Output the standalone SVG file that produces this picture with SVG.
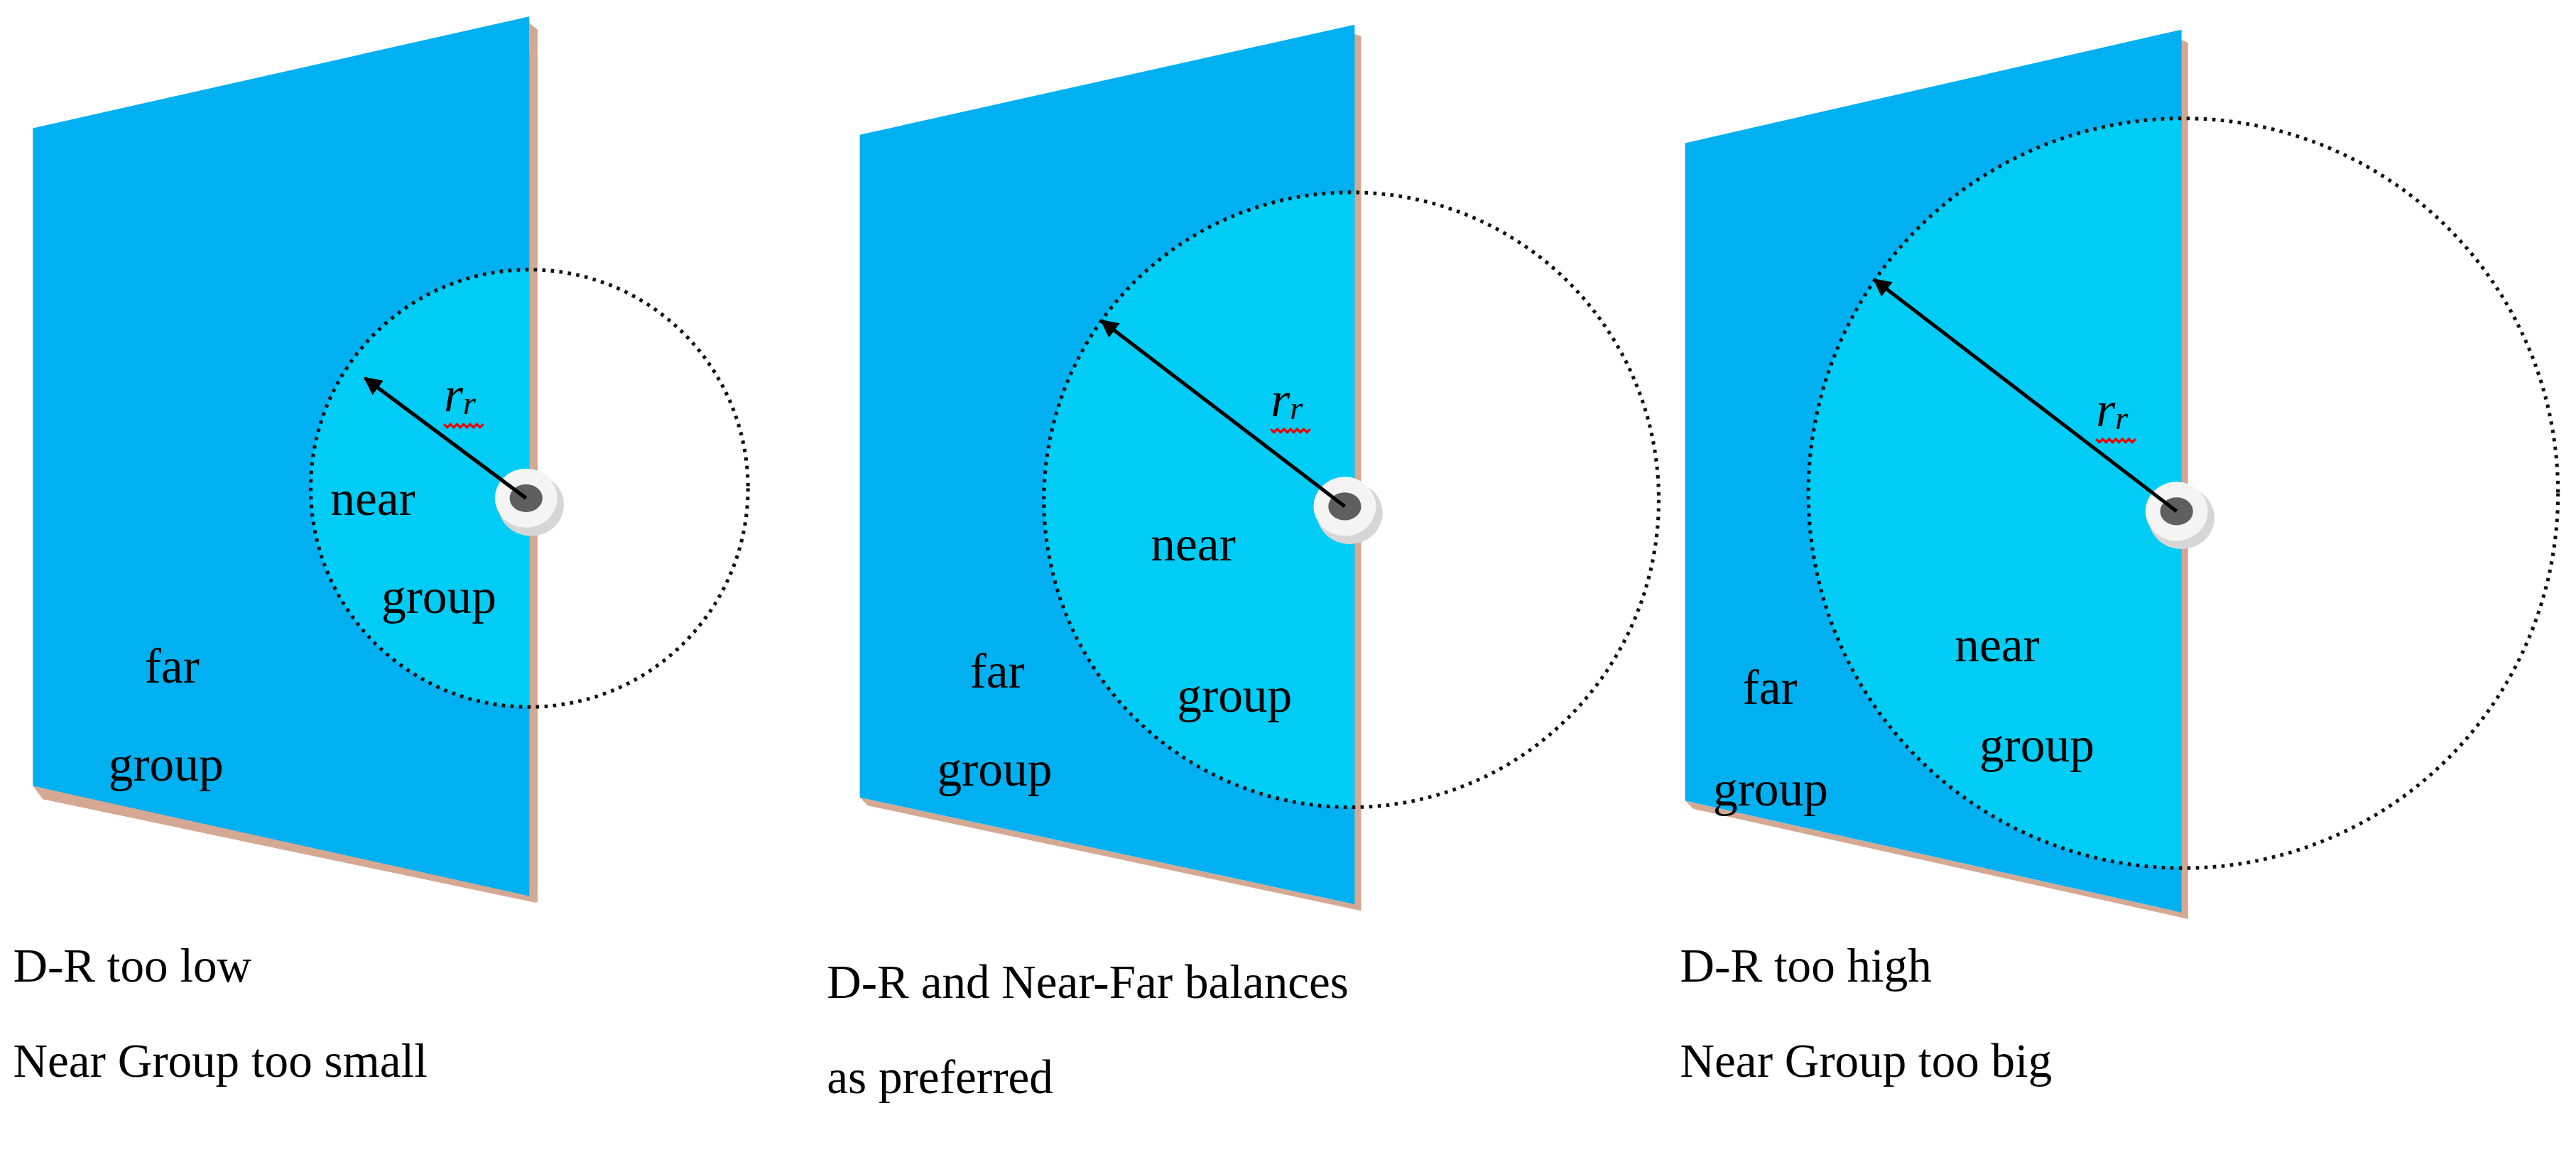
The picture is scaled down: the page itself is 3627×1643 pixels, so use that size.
<svg xmlns="http://www.w3.org/2000/svg" width="3627" height="1643" viewBox="0 0 3627 1643">
<style>
.far{fill:#00B0F0}
.near{fill:#00CCF5}
.edge{fill:#D4A892}
.ring{fill:none;stroke:#111;stroke-width:2.2;stroke-dasharray:2 3.2}
.arr{stroke:#000;stroke-width:2.2;fill:none}
.lbl{font-family:"Liberation Serif",serif;font-size:30px;fill:#000}
.cap{font-family:"Liberation Serif",serif;font-size:29px;fill:#000}
.rr{font-family:"Liberation Serif",serif;font-style:italic;fill:#000}
.wavy{fill:none;stroke:#E00;stroke-width:1.4}
</style>
<defs>
<marker id="ah" viewBox="0 0 10 10" refX="9" refY="5" markerWidth="5" markerHeight="5" orient="auto" markerUnits="strokeWidth"><path d="M0,0L10,5L0,10z" fill="#000"/></marker>
<g id="dev">
<ellipse cx="3" cy="4" rx="20" ry="19" fill="#D6D6D6"/>
<ellipse cx="0" cy="0" rx="19" ry="18" fill="#F4F4F4"/>
<ellipse cx="0" cy="0" rx="10" ry="8.5" fill="#5F5F5F"/>
</g>
<clipPath id="c1"><polygon points="20,78 322,10 322,545 20,478"/></clipPath>
<clipPath id="c2"><polygon points="523,82 824,15 824,550 523,485"/></clipPath>
<clipPath id="c3"><polygon points="1025,87 1327,18 1327,555 1025,487"/></clipPath>
</defs>
<rect width="3627" height="1643" fill="#fff"/>
<g transform="scale(2.3147)">
<g id="panel1">
<polygon class="edge" points="26,484 326,26 326,549 26,486"/>
<polygon class="edge" points="322,14 327,18 327,549 322,545"/>
<polygon class="edge" points="20,478 322,545 326,549 26,486"/>
<polygon class="far" points="20,78 322,10 322,545 20,478"/>
<circle class="near" cx="322" cy="297" r="133" clip-path="url(#c1)"/>
<circle class="ring" cx="322" cy="297" r="133"/>
<use href="#dev" x="320" y="303"/>
<line class="arr" x1="320" y1="303" x2="222" y2="230" marker-end="url(#ah)"/>
<text class="rr" x="270" y="250" font-size="30">r<tspan font-size="20" dy="2">r</tspan></text>
<path class="wavy" d="M270,258 l2,2 l2,-2 l2,2 l2,-2 l2,2 l2,-2 l2,2 l2,-2 l2,2 l2,-2 l2,2 l2,-2"/>
<text class="lbl" x="201" y="313">near</text>
<text class="lbl" x="232" y="373">group</text>
<text class="lbl" x="88" y="415">far</text>
<text class="lbl" x="66" y="475">group</text>
<text class="cap" x="8" y="597">D-R too low</text>
<text class="cap" x="8" y="655">Near Group too small</text>
</g>
<g id="panel2">
<polygon class="edge" points="819,19 828,22 828,554 819,550"/>
<polygon class="edge" points="523,485 824,550 828,554 528,490"/>
<polygon class="far" points="523,82 824,15 824,550 523,485"/>
<circle class="near" cx="822" cy="304" r="187" clip-path="url(#c2)"/>
<circle class="ring" cx="822" cy="304" r="187"/>
<use href="#dev" x="818" y="308"/>
<line class="arr" x1="818" y1="308" x2="670" y2="195" marker-end="url(#ah)"/>
<text class="rr" x="773" y="253" font-size="30">r<tspan font-size="20" dy="2">r</tspan></text>
<path class="wavy" d="M773,261 l2,2 l2,-2 l2,2 l2,-2 l2,2 l2,-2 l2,2 l2,-2 l2,2 l2,-2 l2,2 l2,-2"/>
<text class="lbl" x="700" y="341">near</text>
<text class="lbl" x="716" y="433">group</text>
<text class="lbl" x="590" y="418">far</text>
<text class="lbl" x="570" y="478">group</text>
<text class="cap" x="503" y="607">D-R and Near-Far balances</text>
<text class="cap" x="503" y="665">as preferred</text>
</g>
<g id="panel3">
<polygon class="edge" points="1322,22 1331,26 1331,559 1322,555"/>
<polygon class="edge" points="1025,487 1327,555 1331,559 1030,492"/>
<polygon class="far" points="1025,87 1327,18 1327,555 1025,487"/>
<circle class="near" cx="1328" cy="300" r="228" clip-path="url(#c3)"/>
<circle class="ring" cx="1328" cy="300" r="228"/>
<use href="#dev" x="1324" y="311"/>
<line class="arr" x1="1324" y1="311" x2="1140" y2="170" marker-end="url(#ah)"/>
<text class="rr" x="1275" y="259" font-size="30">r<tspan font-size="20" dy="2">r</tspan></text>
<path class="wavy" d="M1275,267 l2,2 l2,-2 l2,2 l2,-2 l2,2 l2,-2 l2,2 l2,-2 l2,2 l2,-2 l2,2 l2,-2"/>
<text class="lbl" x="1189" y="402">near</text>
<text class="lbl" x="1204" y="463">group</text>
<text class="lbl" x="1060" y="428">far</text>
<text class="lbl" x="1042" y="490">group</text>
<text class="cap" x="1022" y="597">D-R too high</text>
<text class="cap" x="1022" y="655">Near Group too big</text>
</g>
</g>
</svg>
